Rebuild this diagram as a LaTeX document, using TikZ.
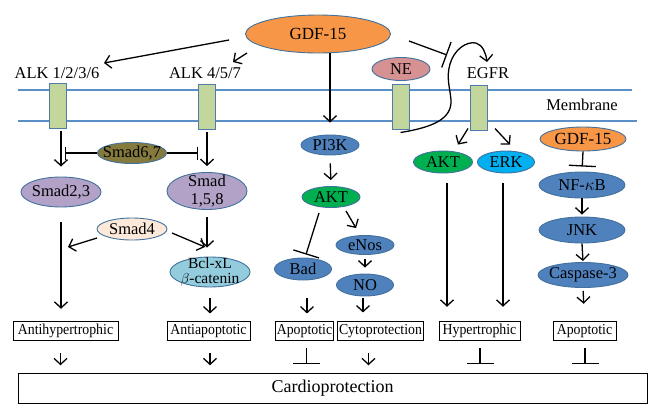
\documentclass[tikz,border=0pt]{standalone}
\usepackage{fontspec}
\setmainfont{Liberation Serif}
\newfontfamily\boxfont[FakeStretch=0.91]{Liberation Serif}
\usetikzlibrary{shapes.geometric,arrows.meta,calc}
\definecolor{gorange}{HTML}{F79646}
\definecolor{ellblue}{HTML}{41719C}
\definecolor{bfill}{HTML}{4F81BD}
\definecolor{gfill}{HTML}{00B050}
\definecolor{cfill}{HTML}{00B0F0}
\definecolor{pfill}{HTML}{B3A2C7}
\definecolor{peach}{HTML}{FDE9D9}
\definecolor{lbfill}{HTML}{93CDDD}
\definecolor{olive}{HTML}{847A3E}
\definecolor{nepink}{HTML}{D69292}
\definecolor{memline}{HTML}{5B8FC9}
\definecolor{recgreen}{HTML}{C3D69B}
\definecolor{recborder}{HTML}{4F7CAB}
\begin{document}
\begin{tikzpicture}[x=1pt,y=-1pt,
  nodetext/.style={font=\fontsize{16.5}{18}\selectfont, align=center, inner sep=0pt},
  bigtext/.style={font=\fontsize{17}{18}\selectfont, inner sep=0pt},
  ell/.style={ellipse, draw=ellblue, line width=0.9pt, inner sep=0pt, label={[nodetext]center:#1}},
  ellb/.style={ellipse, draw=ellblue, line width=0.9pt, inner sep=0pt, label={[bigtext]center:#1}},
  rec/.style={rectangle, draw=recborder, fill=recgreen, line width=1pt, minimum width=17pt, minimum height=45pt, inner sep=0pt},
  box/.style={draw, line width=1pt, inner xsep=1.5pt, inner ysep=1pt, font=\boxfont\fontsize{15.2}{16}\selectfont, minimum height=19.5pt},
  lab/.style={font=\fontsize{16.5}{17}\selectfont},
  mem/.style={draw=memline, line width=1.2pt},
  arr/.style={-{Straight Barb[length=6pt,width=13pt]}, line width=1.3pt},
  inh/.style={-{Bar[width=27pt]}, line width=1.3pt},
  inhs/.style={-{Bar[width=13pt]}, line width=1.3pt}]
\useasboundingbox (0,0) rectangle (661,418);

% membrane
\draw[mem] (18,90) -- (632,90);
\draw[mem] (18,121) -- (637,121);

% labels
\node[lab] (alk1lab) at (57,73) {ALK 1/2/3/6};
\node[lab] (alk4lab) at (205,73) {ALK 4/5/7};
\node[lab] (egfrlab) at (488,73) {EGFR};
\node[lab] (memlab) at (582,105) {Membrane};

% receptors
\node[rec] (r1) at (58,106) {};
\node[rec] (r2) at (206.5,107) {};
\node[rec] (r3) at (400.5,106.5) {};
\node[rec] (r4) at (479,107.5) {};

% top
\node[ellb={GDF-15}, fill=gorange, minimum width=145pt, minimum height=38pt] (gdf) at (318,34) {};
\node[ell={NE}, fill=nepink, minimum width=58pt, minimum height=23pt] (ne) at (401,69) {};

% left column
\node[ell={Smad6,7}, fill=olive, minimum width=69pt, minimum height=21pt] (smad67) at (132,153) {};
\node[ell={Smad2,3}, fill=pfill, minimum width=80pt, minimum height=30pt] (smad23) at (61,192) {};
\node[ell={Smad\\1,5,8}, fill=pfill, minimum width=80pt, minimum height=37pt] (smad158) at (207,191) {};
\node[ell={Smad4}, fill=peach, minimum width=70pt, minimum height=22pt] (smad4) at (132,229) {};
\node[ellipse, draw=ellblue, line width=0.9pt, inner sep=0pt, fill=lbfill, minimum width=80pt, minimum height=30pt,
  label={[font=\fontsize{15.5}{15}\selectfont, align=center, inner sep=0pt]center:Bcl-xL\\$\beta$-catenin}] (bcl) at (210,272) {};

% middle column
\node[ell={PI3K}, fill=bfill, minimum width=58pt, minimum height=20pt] (pi3k) at (330,145) {};
\node[ell={AKT}, fill=gfill, minimum width=58pt, minimum height=21pt] (akt1) at (331,197) {};
\node[ell={eNos}, fill=bfill, minimum width=58pt, minimum height=19pt] (enos) at (365,245) {};
\node[ell={NO}, fill=bfill, minimum width=57pt, minimum height=22pt] (no) at (365,285) {};
\node[ell={Bad}, fill=bfill, minimum width=57pt, minimum height=22pt] (bad) at (303,269) {};

% EGFR column
\node[ell={AKT}, fill=gfill, minimum width=59pt, minimum height=22pt] (akt2) at (443,162) {};
\node[ell={ERK}, fill=cfill, minimum width=57pt, minimum height=22pt] (erk) at (506,162) {};

% right column
\node[ellb={GDF-15}, fill=gorange, minimum width=86pt, minimum height=24pt] (gdf2) at (583,139) {};
\node[ell={NF-$\kappa$B}, fill=bfill, minimum width=86pt, minimum height=26pt] (nfkb) at (582,185) {};
\node[ell={JNK}, fill=bfill, minimum width=86pt, minimum height=26pt] (jnk) at (582,230) {};
\node[ell={Caspase-3}, fill=bfill, minimum width=90pt, minimum height=25pt] (casp) at (583,275) {};

% outcome boxes
\node[box, minimum width=105pt] (antih) at (65.5,331) {Antihypertrophic};
\node[box, minimum width=83pt] (antia) at (208.5,331) {Antiapoptotic};
\node[box, minimum width=57pt] (apop1) at (304.5,331) {Apoptotic};
\node[box, minimum width=85pt] (cyto) at (380.5,331) {Cytoprotection};
\node[box, minimum width=81pt] (hyp) at (479.5,331) {Hypertrophic};
\node[box, minimum width=63pt] (apop2) at (584.5,331) {Apoptotic};
\node[draw, line width=1pt, minimum width=629pt, minimum height=30pt, inner sep=0pt,
  font=\fontsize{18}{19}\selectfont] (cardio) at (332.5,388) {Cardioprotection};

% --- connectors from GDF-15
\draw[arr] ($(gdf)+(-89,6)$) -- ($(alk1lab)+(47,-10)$);
\draw[arr] ($(gdf)+(-71,19)$) -- ($(gdf)+(-85,28)$);
\draw[arr, shorten >=12pt] (gdf.south -| pi3k.north) -- (pi3k.north);
\draw[inh] ($(gdf)+(91,7)$) -- ($(gdf)+(129,21)$);
\draw[arr] ($(r3.south)+(0,3)$) .. controls (435,127) and (452,118) .. (451,100)
  .. controls (450,88) and (446,78) .. (450,64)
  .. controls (454,50) and (466,41) .. (476,43)
  .. controls (483,45) and (486,54) .. ($(egfrlab)+(-1,-11)$);

% left column connectors
\draw[arr, shorten <=2pt, shorten >=10pt] (r1.south -| smad23.north) -- (smad23.north);
\draw[arr, shorten <=2pt, shorten >=6pt] (r2.south -| smad158.north) -- (smad158.north);
\draw[inhs, shorten >=4pt] (smad67.west) -- (smad67.west -| smad23.north);
\draw[inhs, shorten >=9pt] (smad67.east) -- (smad67.east -| smad158.north);
\draw[arr, shorten <=15pt, shorten >=12pt] (smad23.south) -- (smad23.south |- antih.north);
\draw[arr, shorten <=7.5pt, shorten >=9pt] (smad158.south) -- (smad158.south |- bcl.north);
\draw[arr] ($(smad4)+(-35,9)$) -- ($(smad4)+(-64,18)$);
\draw[arr] ($(smad4)+(40,4)$) -- ($(smad4)+(73,18)$);
\draw[arr] ($(bcl.south)+(0,11)$) -- ($(bcl.south)+(0,26)$);

% middle column connectors
\draw[arr, shorten <=8pt, shorten >=6pt] (pi3k.south) -- (akt1.north);
\draw[inh] ($(akt1.south)+(-12,5)$) -- ($(bad.north)+(3,-3)$);
\draw[arr] ($(akt1.south)+(15,3)$) -- ($(enos.north)+(-9,-7)$);
\draw[arr, shorten <=4pt, shorten >=6pt] (enos.south) -- (no.north);
\draw[arr] ($(bad.south)+(4,18)$) -- ($(bad.south)+(4,33)$);
\draw[arr] ($(no.south)+(-2,2)$) -- ($(no.south)+(-2,16)$);

% EGFR connectors
\draw[arr] ($(r4.south)+(-11,-2)$) -- ($(akt2.north)+(15,-6)$);
\draw[arr] ($(r4.south)+(16,-2)$) -- ($(erk.north)+(4,-6)$);
\coordinate (aktd) at ($(akt2.south)+(4,0)$);
\coordinate (erkd) at ($(erk.south)+(-3,0)$);
\draw[arr, shorten <=10pt, shorten >=14pt] (aktd) -- (aktd |- hyp.north);
\draw[arr, shorten <=10pt, shorten >=14pt] (erkd) -- (erkd |- hyp.north);

% right column connectors
\draw[inh, shorten >=5pt] (gdf2.south) -- (nfkb.north);
\draw[arr, shorten >=2pt] (nfkb.south) -- (jnk.north);
\draw[arr, shorten >=1pt] (jnk.south) -- (casp.north);
\draw[arr, shorten <=3pt, shorten >=17pt] (casp.south) -- (apop2.north);

% to cardioprotection
\draw[arr] ($(antih.south)+(-5,12)$) -- ($(antih.south)+(-5,24)$);
\draw[arr] ($(antia.south)+(1.5,12)$) -- ($(antia.south)+(1.5,24)$);
\draw[inh] ($(apop1.south)+(2,7)$) -- ($(apop1.south)+(2,23)$);
\draw[arr] ($(cyto.south)+(-12,12)$) -- ($(cyto.south)+(-12,24)$);
\draw[inh] ($(hyp.south)+(0.5,7)$) -- ($(hyp.south)+(0.5,23)$);
\draw[inh] ($(apop2.south)+(0.5,7)$) -- ($(apop2.south)+(0.5,23)$);
\end{tikzpicture}
\end{document}
